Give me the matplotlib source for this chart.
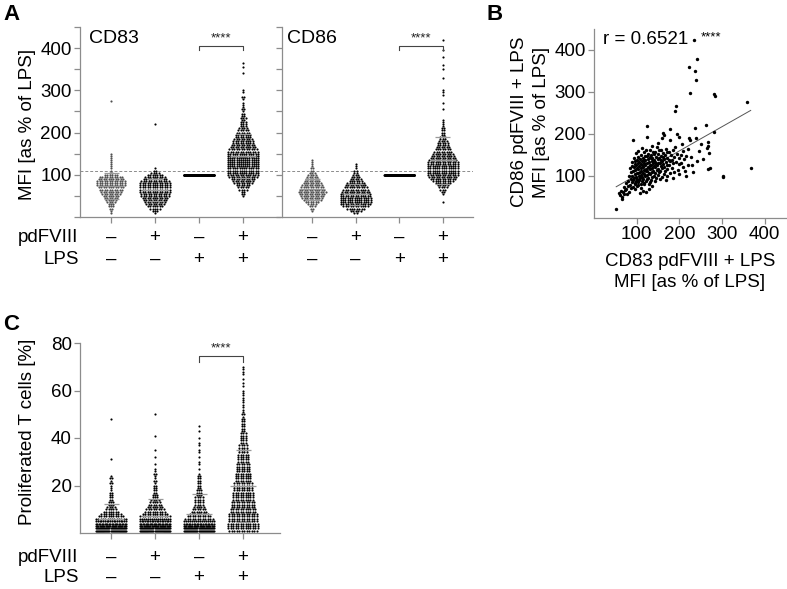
import numpy as np
import matplotlib
matplotlib.use("Agg")
import matplotlib.pyplot as plt
from matplotlib.transforms import blended_transform_factory

plt.rcParams['font.family'] = ['Liberation Sans', 'DejaVu Sans']

# ---------------- DATA ----------------
groups = ["-/-", "pdFVIII", "LPS", "pdFVIII+LPS"]
pdfviii_signs = ["–", "+", "–", "+"]
lps_signs = ["–", "–", "+", "+"]

# Panel A, CD83 (MFI as % of LPS), histogram of dots: values and counts
cd83_g1_vals = [10, 15, 20, 25, 30, 35, 40, 45, 50, 55, 60, 65, 70, 75, 80, 85, 90, 95, 100, 105, 110, 115, 120, 125, 130, 135, 140, 145, 150, 275]
cd83_g1_cnts = [1, 1, 2, 3, 3, 4, 5, 6, 7, 8, 9, 10, 11, 12, 12, 12, 11, 10, 6, 2, 1, 1, 1, 1, 1, 1, 1, 1, 1, 1]
cd83_g2_vals = [10, 15, 20, 25, 30, 35, 40, 45, 50, 55, 60, 65, 70, 75, 80, 85, 90, 95, 100, 105, 110, 115, 220]
cd83_g2_cnts = [1, 3, 5, 7, 8, 9, 10, 11, 12, 12, 13, 13, 13, 13, 13, 12, 10, 9, 7, 4, 2, 1, 1]
cd83_g3_vals = [100]
cd83_g3_cnts = [300]
cd83_g4_vals = [50, 55, 60, 65, 70, 75, 80, 85, 90, 95, 100, 105, 110, 115, 120, 125, 130, 135, 140, 145,
                150, 155, 160, 165, 170, 175, 180, 185, 190, 195, 200, 205, 210, 215, 220, 225, 230, 235, 240,
                245, 250, 255, 260, 265, 270, 280, 285, 295, 300, 340, 355, 365]
cd83_g4_cnts = [1, 2, 2, 4, 5, 6, 8, 9, 10, 12, 13, 14, 14, 14, 15, 15, 15, 15, 15, 14,
                14, 13, 12, 11, 10, 9, 9, 8, 7, 7, 6, 5, 4, 3, 3, 3, 2, 3, 2,
                2, 1, 2, 1, 1, 1, 1, 2, 1, 1, 1, 1, 1]

# Panel A, CD86
cd86_g1_vals = [15, 20, 25, 30, 35, 40, 45, 50, 55, 60, 65, 70, 75, 80, 85, 90, 95, 100, 105, 110, 115, 120, 125, 130, 135]
cd86_g1_cnts = [1, 2, 3, 4, 6, 8, 9, 10, 11, 12, 11, 10, 9, 8, 7, 6, 5, 4, 3, 2, 2, 1, 1, 1, 1]
cd86_g2_vals = [10, 15, 20, 25, 30, 35, 40, 45, 50, 55, 60, 65, 70, 75, 80, 85, 90, 95, 100, 105, 110, 115, 120, 125]
cd86_g2_cnts = [2, 5, 8, 11, 13, 14, 14, 14, 13, 13, 12, 11, 10, 9, 8, 6, 5, 4, 3, 2, 2, 1, 1, 1]
cd86_g3_vals = [100]
cd86_g3_cnts = [300]
cd86_g4_vals = [35, 55, 60, 65, 70, 75, 80, 85, 90, 95, 100, 105, 110, 115, 120, 125, 130, 135, 140, 145,
                150, 155, 160, 165, 170, 175, 180, 185, 190, 195, 200, 205, 210, 215, 220, 225, 230, 255,
                270, 290, 295, 300, 330, 350, 360, 380, 395, 420]
cd86_g4_cnts = [1, 1, 2, 3, 4, 5, 7, 9, 11, 12, 13, 14, 14, 14, 14, 13, 13, 12, 11, 10,
                9, 8, 7, 6, 5, 5, 4, 3, 3, 2, 2, 2, 2, 1, 1, 1, 1, 1,
                1, 1, 1, 1, 1, 1, 1, 1, 1, 1]

dashed_ref = 110

# Panel B scatter (CD83 vs CD86, pdFVIII + LPS)
b_cd83 = [112, 131, 147, 158, 168, 104, 122, 138, 152, 176, 185, 98, 117, 127, 143, 150, 162, 172, 195,
          109, 120, 133, 140, 156, 166, 181, 204, 215, 94, 103, 114, 124, 130, 137, 146, 153, 161, 170, 188, 198,
          100, 108, 118, 126, 134, 141, 149, 157, 164, 175, 183, 210,
          90, 97, 105, 112, 120, 129, 136, 144, 151, 159, 168, 179, 192, 203,
          95, 102, 110, 116, 123, 131, 139, 146, 154, 162, 171, 186, 198, 220,
          88, 99, 106, 113, 119, 127, 134, 141, 148, 156, 165, 176, 208,
          84, 93, 101, 109, 115, 121, 129, 137, 144, 151, 160, 170, 182, 196,
          97, 104, 111, 118, 125, 132, 139, 147, 155, 166, 188, 212,
          86, 92, 100, 107, 114, 121, 128, 135, 143, 152, 163, 178,
          95, 102, 109, 116, 123, 131, 140, 150, 172, 200,
          82, 90, 98, 105, 112, 119, 127, 137, 146, 160,
          86, 94, 101, 108, 115, 124, 134, 155, 185,
          80, 92, 99, 106, 113, 121, 130, 142, 168,
          75, 88, 97, 104, 111, 118, 128,
          84, 95, 103, 116, 135,
          70, 79, 91, 100, 110,
          74, 86, 96, 128,
          64, 72, 81, 115, 122,
          58, 68, 77, 107,
          62, 71, 66, 65, 52,
          125, 236, 263, 177, 281, 91, 123, 162, 164, 160, 195, 198, 222, 225, 267, 268, 264, 270,
          242, 268, 272, 302, 303, 367, 234, 241, 223, 237, 239, 225, 281, 284, 192, 190, 358,
          230, 245, 228, 250, 215, 220, 205, 240, 178, 190, 150, 135, 208, 255, 232]
b_cd86 = [166, 163, 168, 162, 165, 159, 161, 157, 162, 158, 161, 154, 156, 153, 157, 152, 155, 157, 153,
          151, 148, 150, 152, 147, 150, 149, 151, 148, 144, 146, 143, 147, 145, 142, 146, 143, 146, 144, 145, 142,
          139, 141, 138, 140, 142, 138, 140, 137, 141, 139, 138, 140,
          134, 136, 133, 135, 137, 133, 136, 134, 132, 135, 133, 136, 134, 131,
          129, 131, 128, 130, 132, 127, 130, 128, 131, 129, 127, 130, 128, 126,
          124, 126, 123, 125, 127, 122, 125, 123, 126, 124, 122, 125, 121,
          119, 121, 118, 120, 122, 117, 120, 118, 121, 116, 119, 117, 118, 115,
          114, 116, 113, 115, 112, 116, 113, 115, 111, 113, 110, 112,
          109, 111, 108, 110, 107, 111, 108, 110, 106, 109, 105, 108,
          104, 106, 103, 105, 102, 104, 101, 103, 100, 104,
          99, 101, 98, 100, 97, 99, 96, 98, 95, 97,
          94, 96, 93, 95, 92, 94, 91, 93, 96,
          89, 91, 88, 90, 87, 89, 86, 88, 90,
          84, 86, 83, 85, 82, 84, 81,
          79, 81, 78, 80, 77,
          74, 76, 73, 75, 72,
          69, 71, 68, 70,
          64, 66, 63, 65, 62,
          59, 61, 58, 60,
          54, 56, 50, 46, 21,
          220, 214, 222, 211, 205, 186, 194, 202, 197, 190, 200, 194, 190, 185, 181, 171, 166, 154,
          136, 116, 120, 100, 97, 119, 424, 379, 360, 350, 329, 298, 295, 290, 267, 255, 276,
          125, 160, 145, 175, 100, 165, 175, 190, 185, 170, 178, 172, 160, 140, 110]
fit_slope = 0.577
fit_intercept = 44.4
r_text = "r = 0.6521"

# Panel C, proliferated T cells [%]
c_g1_vals = [1, 2, 3, 4, 5, 6, 7, 8, 9, 10, 11, 12, 13, 14, 15, 16, 17, 18, 19, 20, 21, 22, 23, 24, 31, 48]
c_g1_cnts = [30, 30, 26, 22, 18, 14, 11, 9, 7, 5, 4, 3, 3, 2, 2, 2, 2, 1, 1, 1, 2, 1, 2, 1, 1, 1]
c_g2_vals = [1, 2, 3, 4, 5, 6, 7, 8, 9, 10, 11, 12, 13, 14, 15, 16, 17, 18, 19, 20, 21, 22, 23, 24, 25, 26, 27, 29, 32, 35, 41, 50]
c_g2_cnts = [30, 30, 27, 23, 19, 16, 13, 11, 9, 8, 7, 6, 5, 4, 3, 3, 2, 2, 2, 2, 1, 2, 1, 1, 2, 1, 1, 1, 1, 1, 1, 1]
c_g3_vals = [1, 2, 3, 4, 5, 6, 7, 8, 9, 10, 11, 12, 13, 14, 15, 16, 17, 18, 19, 20, 21, 22, 23, 24, 25, 27, 29, 30, 32, 34, 35, 37, 38, 40, 43, 45]
c_g3_cnts = [30, 30, 26, 20, 16, 12, 10, 8, 7, 6, 5, 4, 4, 4, 4, 3, 3, 3, 2, 2, 2, 2, 2, 2, 1, 1, 1, 1, 1, 1, 1, 1, 1, 1, 1, 1]
c_g4_vals = list(range(1, 61)) + [62, 63, 65, 67, 68, 69, 70]
c_g4_cnts = [12, 13, 13, 13, 12, 12, 12, 12, 11, 11, 10, 10, 10, 9, 9, 9, 9, 8, 8, 8,
             8, 7, 7, 7, 7, 6, 6, 6, 6, 5, 5, 5, 5, 4, 4, 4, 4, 3, 3, 3,
             3, 3, 2, 2, 2, 2, 2, 2, 1, 2, 1, 1, 1, 1, 1, 1, 1, 1, 1, 1,
             1, 1, 1, 1, 1, 1, 1]

# ---------------- STYLE ----------------
FS = 13.5
GRAY = '#8c8c8c'
W, H = 787, 589

fig = plt.figure(figsize=(W / 100, H / 100), dpi=100)


def px_axes(l, t, r, b):
    return fig.add_axes([l / W, 1 - b / H, (r - l) / W, (b - t) / H])


def style_axes(ax):
    for s in ['top', 'right']:
        ax.spines[s].set_visible(False)
    for s in ['left', 'bottom']:
        ax.spines[s].set_color(GRAY)
        ax.spines[s].set_linewidth(0.9)
    ax.tick_params(direction='out', length=4, width=0.9, color=GRAY, labelsize=FS, pad=2)


def swarm(ax, center, vals, cnts, color, dx=0.056, maxhalf=0.34, s=2.4):
    xs, ys = [], []
    for v, n in zip(vals, cnts):
        step = dx if (n - 1) * dx / 2 <= maxhalf else 2 * maxhalf / (n - 1)
        offs = (np.arange(n) - (n - 1) / 2) * step
        xs.extend(center + offs)
        ys.extend([v] * n)
    ax.scatter(xs, ys, s=s, c=color, linewidths=0, zorder=3)
    data = np.repeat(vals, cnts)
    m, sd = data.mean(), data.std(ddof=1)
    if sd > 0:
        ax.hlines(m, center - 0.3, center + 0.3, color='#9a9a9a', lw=0.9, zorder=4)
        ax.hlines([m - sd, m + sd], center - 0.17, center + 0.17, color='#9a9a9a', lw=0.9, zorder=4)


def bracket(ax, x0, x1, y, leg, text_y):
    ax.plot([x0, x0, x1, x1], [y - leg, y, y, y - leg], color='#444', lw=0.8, zorder=5)
    ax.text((x0 + x1) / 2, text_y, '****', ha='center', va='bottom', fontsize=9.5, color='#222')


def group_labels(ax, off1, off2, with_names=True):
    tr = blended_transform_factory(ax.transData, ax.transAxes)
    for i in range(4):
        ax.annotate(pdfviii_signs[i], xy=(i, 0), xycoords=tr, xytext=(0, -off1 * 0.72),
                    textcoords='offset points', ha='center', va='center', fontsize=FS)
        ax.annotate(lps_signs[i], xy=(i, 0), xycoords=tr, xytext=(0, -off2 * 0.72),
                    textcoords='offset points', ha='center', va='center', fontsize=FS)
    if with_names:
        ax.annotate('pdFVIII', xy=(0, 0), xycoords='axes fraction', xytext=(-1, -off1 * 0.72),
                    textcoords='offset points', ha='right', va='center', fontsize=FS)
        ax.annotate('LPS', xy=(0, 0), xycoords='axes fraction', xytext=(-1, -off2 * 0.72),
                    textcoords='offset points', ha='right', va='center', fontsize=FS)


# ---------------- PANEL A ----------------
axA1 = px_axes(80, 27, 280, 217)
axA2 = px_axes(282, 27, 473, 217)
for ax, gv, gc, name, xl in [
    (axA1, [cd83_g1_vals, cd83_g2_vals, cd83_g3_vals, cd83_g4_vals],
     [cd83_g1_cnts, cd83_g2_cnts, cd83_g3_cnts, cd83_g4_cnts], 'CD83', (-0.705, 3.84)),
    (axA2, [cd86_g1_vals, cd86_g2_vals, cd86_g3_vals, cd86_g4_vals],
     [cd86_g1_cnts, cd86_g2_cnts, cd86_g3_cnts, cd86_g4_cnts], 'CD86', (-0.69, 3.69))]:
    style_axes(ax)
    ax.set_ylim(0, 450)
    ax.set_xlim(*xl)
    ax.set_xticks(range(4))
    ax.set_xticklabels([])
    ax.set_yticks(np.arange(0, 451, 50))
    ax.axhline(dashed_ref, color=GRAY, lw=0.7, ls=(0, (3, 2)), zorder=1)
    colors = ['#505050', 'black', 'black', 'black']
    for i in range(4):
        swarm(ax, i, gv[i], gc[i], colors[i])
    bracket(ax, 2, 3, 405, 10, 408)
    ax.text(0.045 if name == 'CD83' else 0.028, 0.937, name, transform=ax.transAxes,
            ha='left', va='center', fontsize=14)

axA1.set_yticklabels(['' if v not in (100, 200, 300, 400) else str(v) for v in range(0, 451, 50)])
axA2.set_yticklabels([])
group_labels(axA1, 20, 42, True)
group_labels(axA2, 20, 42, False)
fig.text(27 / W, 1 - 124 / H, 'MFI [as % of LPS]', rotation=90, ha='center', va='center', fontsize=FS)

# ---------------- PANEL B ----------------
axB = px_axes(594, 29, 787, 218)
style_axes(axB)
axB.set_xlim(0, 452)
axB.set_ylim(0, 450)
axB.set_xticks([100, 200, 300, 400])
axB.set_yticks([100, 200, 300, 400])
axB.scatter(b_cd83, b_cd86, s=6, c='black', linewidths=0, zorder=3)
xf = np.array([min(b_cd83), max(b_cd83)])
axB.plot(xf, fit_intercept + fit_slope * xf, color='#555555', lw=0.7, zorder=2)
axB.text(22, 425, r_text, ha='left', va='center', fontsize=FS)
axB.text(250, 431, '****', ha='left', va='center', fontsize=9.5)
fig.text(519 / W, 1 - 122 / H, 'CD86 pdFVIII + LPS', rotation=90, ha='center', va='center', fontsize=FS)
fig.text(541 / W, 1 - 122 / H, 'MFI [as % of LPS]', rotation=90, ha='center', va='center', fontsize=FS)
fig.text(690 / W, 1 - 261 / H, 'CD83 pdFVIII + LPS', ha='center', va='center', fontsize=FS)
fig.text(690 / W, 1 - 282 / H, 'MFI [as % of LPS]', ha='center', va='center', fontsize=FS)

# ---------------- PANEL C ----------------
axC = px_axes(80, 343, 280, 533)
style_axes(axC)
axC.set_ylim(0, 80)
axC.set_xlim(-0.705, 3.84)
axC.set_xticks(range(4))
axC.set_xticklabels([])
axC.set_yticks([20, 40, 60, 80])
cv = [c_g1_vals, c_g2_vals, c_g3_vals, c_g4_vals]
cc = [c_g1_cnts, c_g2_cnts, c_g3_cnts, c_g4_cnts]
for i in range(4):
    swarm(axC, i, cv[i], cc[i], 'black')
bracket(axC, 2, 3, 74.5, 2.3, 75.2)
group_labels(axC, 24, 44, True)
fig.text(27 / W, 1 - 432 / H, 'Proliferated T cells [%]', rotation=90, ha='center', va='center', fontsize=FS)

# panel letters
fig.text(11 / W, 1 - 15 / H, 'A', ha='center', va='center', fontsize=16, fontweight='bold')
fig.text(495 / W, 1 - 15 / H, 'B', ha='center', va='center', fontsize=16, fontweight='bold')
fig.text(11 / W, 1 - 325 / H, 'C', ha='center', va='center', fontsize=16, fontweight='bold')

fig.savefig('out.png', dpi=100)
